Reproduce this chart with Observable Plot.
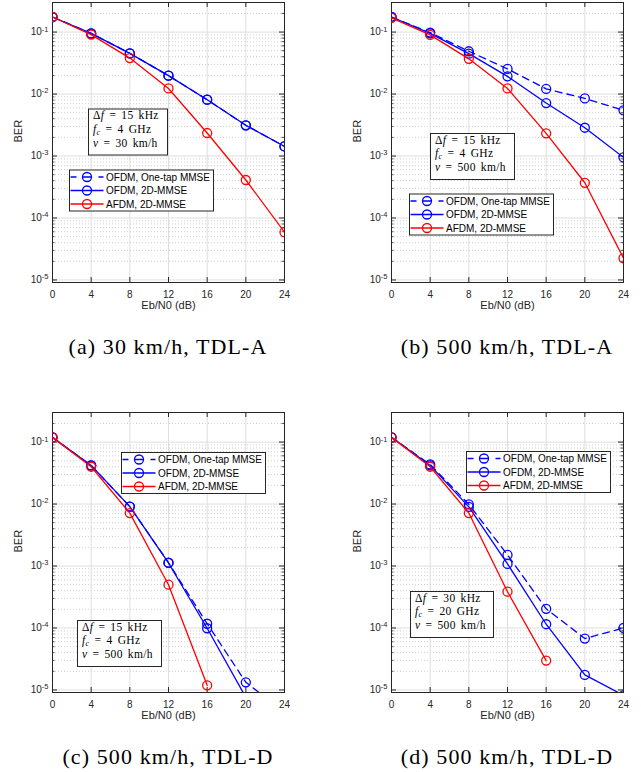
<!DOCTYPE html>
<html><head><meta charset="utf-8">
<script src="https://cdn.jsdelivr.net/npm/d3@7"></script>
<script src="https://cdn.jsdelivr.net/npm/@observablehq/plot@0.6"></script>
<style>
body{margin:0;background:#fff;}
#root{position:relative;width:641px;height:772px;background:#fff;overflow:hidden;}
.panel{position:absolute;}
#overlay{position:absolute;left:0;top:0;}
</style></head><body><div id="root"></div>
<script>
// ---------- data ----------
const snr = [0, 4, 8, 12, 16, 20, 24];
const xTicks = [0, 4, 8, 12, 16, 20, 24];
const yTicks = [1e-5, 1e-4, 1e-3, 1e-2, 1e-1];
const seriesNames = ["OFDM, One-tap MMSE", "OFDM, 2D-MMSE", "AFDM, 2D-MMSE"];

// (a) 30 km/h, TDL-A
const a_oneTap = [0.175, 0.095, 0.0453, 0.0198, 0.0081, 0.00313, 0.00143];
const a_ofdm2d = [0.175, 0.095, 0.0453, 0.0198, 0.0081, 0.00313, 0.00143];
const a_afdm   = [0.175, 0.091, 0.038, 0.0123, 0.00235, 0.00041, 0.000059];
// (b) 500 km/h, TDL-A
const b_oneTap = [0.175, 0.098, 0.049, 0.0254, 0.0121, 0.0085, 0.00546];
const b_ofdm2d = [0.175, 0.095, 0.0448, 0.0193, 0.00716, 0.00286, 0.00095];
const b_afdm   = [0.170, 0.090, 0.037, 0.0123, 0.00232, 0.00037, 0.0000224];
// (c) 500 km/h, TDL-D
const c_oneTap = [0.119, 0.042, 0.0091, 0.00113, 0.000117, 0.0000133, 0.0000044];
const c_ofdm2d = [0.119, 0.042, 0.0091, 0.00112, 0.000099, 0.0000076, null];
const c_afdm   = [0.119, 0.040, 0.00715, 0.000499, 0.0000119, null, null];
// (d) 500 km/h, TDL-D
const d_oneTap = [0.119, 0.0435, 0.0099, 0.00151, 0.000204, 0.0000676, 0.0001];
const d_ofdm2d = [0.119, 0.042, 0.009, 0.00108, 0.000115, 0.0000175, 0.0000082];
const d_afdm   = [0.119, 0.040, 0.00715, 0.000385, 0.0000298, null, null];

const noteDeltaF = ["15 kHz", "15 kHz", "15 kHz", "30 kHz"];
const noteFc     = ["4 GHz", "4 GHz", "4 GHz", "20 GHz"];
const noteV      = ["30 km/h", "500 km/h", "500 km/h", "500 km/h"];
const captions   = ["(a) 30 km/h, TDL-A", "(b) 500 km/h, TDL-A", "(c) 500 km/h, TDL-D", "(d) 500 km/h, TDL-D"];
const xLabel = "Eb/N0 (dB)";
const yLabel = "BER";

// ---------- layout / style ----------
const yDomain = [9.1e-6, 0.3];
const H = 320, MT = 2, MB = 38, FW = 232, FH = H - MT - MB;
const colors = ["#0000ff", "#0000ff", "#ff0000"];
const dashes = ["7,5", null, null];
const AX = "#262626";
const SANS = '"Liberation Sans", Helvetica, Arial, sans-serif';
const SERIF = '"Liberation Serif", "Times New Roman", serif';

const panels = [
  {left: 0,   top: 0,   ml: 52, mr: 36, series: [a_oneTap, a_ofdm2d, a_afdm], legend: [69, 169.5], note: [88, 108.5, 80]},
  {left: 320, top: 0,   ml: 71, mr: 17, series: [b_oneTap, b_ofdm2d, b_afdm], legend: [409, 193.5], note: [430, 133, 85]},
  {left: 0,   top: 410, ml: 52, mr: 36, series: [c_oneTap, c_ofdm2d, c_afdm], legend: [121, 452], note: [77, 620, 85]},
  {left: 320, top: 410, ml: 71, mr: 17, series: [d_oneTap, d_ofdm2d, d_afdm], legend: [466, 451], note: [410, 591, 84]}
];

const minorY = [];
for (let e = -6; e <= -1; e++) for (let m = 2; m <= 9; m++) {
  const v = m * Math.pow(10, e);
  if (v > yDomain[0] && v < yDomain[1] - 1e-9) minorY.push(v);
}

const root = document.getElementById("root");
const NS = "http://www.w3.org/2000/svg";

function makePlot(p) {
  const seriesMarks = [];
  p.series.forEach((vals, i) => {
    const rows = snr.map((x, j) => ({x, y: vals[j]})).filter(d => d.y != null);
    seriesMarks.push(Plot.line(rows, {x: "x", y: "y", stroke: colors[i], strokeWidth: 1.3,
      strokeDasharray: dashes[i] || undefined, clip: true}));
    seriesMarks.push(Plot.dot(rows, {x: "x", y: "y", r: 4.5, stroke: colors[i], fill: "none",
      strokeWidth: 1.3, clip: true}));
  });
  const svg = Plot.plot({
    width: p.ml + FW + p.mr, height: H,
    marginLeft: p.ml, marginRight: p.mr, marginTop: MT, marginBottom: MB,
    style: {background: "transparent", fontFamily: SANS, fontSize: "10px", color: AX, overflow: "visible"},
    x: {domain: [0, 24], ticks: xTicks, tickSize: 0, tickPadding: 8, label: null},
    y: {type: "log", domain: yDomain, ticks: yTicks, tickSize: 0, tickPadding: 4, label: null,
        tickFormat: d => String(Math.round(Math.log10(d)))},
    marks: [
      Plot.ruleY(minorY, {stroke: "#c4c4c4", strokeDasharray: "1,2", strokeWidth: 0.8}),
      Plot.ruleY(yTicks, {stroke: "#dedede", strokeWidth: 1}),
      Plot.ruleX(xTicks, {stroke: "#dedede", strokeWidth: 1}),
      Plot.tickY(yTicks, {stroke: AX, insetRight: FW - 5}),
      Plot.tickY(yTicks, {stroke: AX, insetLeft: FW - 5}),
      Plot.tickY(minorY, {stroke: AX, insetRight: FW - 2.5, strokeWidth: 0.8}),
      Plot.tickY(minorY, {stroke: AX, insetLeft: FW - 2.5, strokeWidth: 0.8}),
      Plot.tickX(xTicks, {stroke: AX, insetTop: FH - 5}),
      Plot.tickX(xTicks, {stroke: AX, insetBottom: FH - 5}),
      Plot.frame({stroke: AX, strokeWidth: 1}),
      ...seriesMarks,
      Plot.text([yLabel], {text: d => d, frameAnchor: "left", dx: -34, rotate: -90, fontSize: 11, fill: AX}),
      Plot.text([xLabel], {text: d => d, frameAnchor: "bottom", dy: 26, fontSize: 11, fill: AX})
    ]
  });
  svg.querySelectorAll('g[aria-label="y-axis tick label"] text').forEach(t => {
    const e = t.textContent;
    t.textContent = "10";
    const ts = document.createElementNS(NS, "tspan");
    ts.setAttribute("dy", "-0.5em");
    ts.setAttribute("font-size", "7.5");
    ts.textContent = e;
    t.appendChild(ts);
  });
  const div = document.createElement("div");
  div.className = "panel";
  div.style.left = p.left + "px";
  div.style.top = p.top + "px";
  div.appendChild(svg);
  root.appendChild(div);
}
panels.forEach(makePlot);

// ---------- overlay: legends, notes, captions ----------
const ov = document.createElementNS(NS, "svg");
ov.setAttribute("id", "overlay");
ov.setAttribute("width", 641);
ov.setAttribute("height", 772);
root.appendChild(ov);
function el(tag, attrs, parent, text) {
  const e = document.createElementNS(NS, tag);
  for (const k in attrs) e.setAttribute(k, attrs[k]);
  if (text != null) e.textContent = text;
  (parent || ov).appendChild(e);
  return e;
}

panels.forEach((p, k) => {
  // legend
  const [lx, ly] = p.legend;
  const lw = 145, lh = 42;
  const g = el("g", {transform: `translate(${lx},${ly})`});
  el("rect", {x: 0.5, y: 0.5, width: lw - 1, height: lh - 1, fill: "#fff", stroke: AX, "stroke-width": 1}, g);
  const rowY = [7.5, 21, 34.5];
  seriesNames.forEach((name, i) => {
    const line = el("line", {x1: 1.5, x2: 34.5, y1: rowY[i], y2: rowY[i], stroke: colors[i], "stroke-width": 1.3}, g);
    if (dashes[i]) line.setAttribute("stroke-dasharray", "6,6.5,9,6.5,6");
    el("circle", {cx: 18, cy: rowY[i], r: 4.5, fill: "none", stroke: colors[i], "stroke-width": 1.3}, g);
    el("text", {x: 37, y: rowY[i], "dominant-baseline": "central", "font-family": SANS, "font-size": 10, fill: "#000"}, g, name);
  });
  // note box
  const [nx, ny, nw] = p.note;
  const ng = el("g", {transform: `translate(${nx},${ny})`});
  el("rect", {x: 0.5, y: 0.5, width: nw - 1, height: 46, fill: "#fff", stroke: AX, "stroke-width": 1}, ng);
  const tStyle = {"font-family": SERIF, "font-size": 11.5, "letter-spacing": 0.3, "word-spacing": 2, fill: "#000"};
  const t1 = el("text", {x: 5, y: 10.8, ...tStyle}, ng);
  el("tspan", {}, t1, "Δ");
  el("tspan", {"font-style": "italic"}, t1, "f");
  el("tspan", {}, t1, " = " + noteDeltaF[k]);
  const t2 = el("text", {x: 5, y: 24.2, ...tStyle}, ng);
  el("tspan", {"font-style": "italic"}, t2, "f");
  el("tspan", {"font-style": "italic", "font-size": 8, dy: 1.8}, t2, "c");
  el("tspan", {dy: -1.8}, t2, " = " + noteFc[k]);
  const t3 = el("text", {x: 5, y: 38.2, ...tStyle}, ng);
  el("tspan", {"font-style": "italic"}, t3, "v");
  el("tspan", {}, t3, " = " + noteV[k]);
  // caption
  el("text", {x: p.left + p.ml + FW / 2, y: p.top + 354, "text-anchor": "middle", "font-family": SERIF,
    "font-size": 22, "letter-spacing": 1.1, fill: "#000"}, ov, captions[k]);
});
</script></body></html>
